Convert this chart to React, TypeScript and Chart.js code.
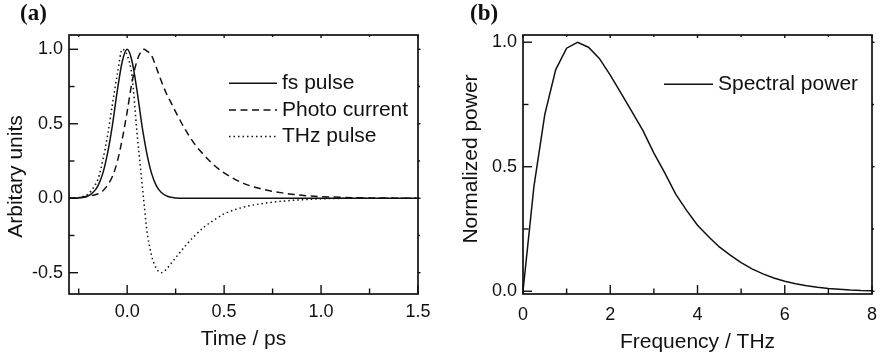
import React, { useEffect, useRef } from "react";
import { Chart, registerables } from "chart.js";

Chart.register(...registerables);

// ---------- Panel (a) data ----------
const timePs = [
  -0.3, -0.25, -0.2, -0.175, -0.15, -0.125, -0.1, -0.075, -0.05, -0.025, 0, 0.025, 0.05, 0.075,
  0.0875, 0.1, 0.125, 0.15, 0.175, 0.2, 0.225, 0.25, 0.3, 0.35, 0.4, 0.45, 0.5, 0.6, 0.7, 0.8,
  0.9, 1.0, 1.1, 1.2, 1.35, 1.5,
];
const fsPulse = [
  0, 0.002, 0.017, 0.04, 0.085, 0.17, 0.31, 0.5, 0.73, 0.92, 1.0, 0.92, 0.73, 0.5,
  0.4, 0.31, 0.17, 0.085, 0.04, 0.017, 0.006, 0.002, 0, 0, 0, 0, 0, 0, 0, 0,
  0, 0, 0, 0, 0, 0,
];
const photoCurrent = [
  0, 0.003, 0.012, 0.02, 0.03, 0.05, 0.09, 0.15, 0.25, 0.4, 0.58, 0.78, 0.92, 0.99,
  1.0, 0.99, 0.96, 0.88, 0.79, 0.71, 0.645, 0.58, 0.46, 0.36, 0.285, 0.22, 0.17, 0.1, 0.06, 0.036,
  0.02, 0.011, 0.006, 0.003, 0.001, 0,
];
const thzPulse = [
  0, 0.005, 0.03, 0.07, 0.13, 0.26, 0.43, 0.64, 0.84, 1.0, 0.96, 0.82, 0.45, 0.12,
  -0.04, -0.2, -0.38, -0.47, -0.5, -0.48, -0.44, -0.4, -0.32, -0.25, -0.19, -0.145, -0.105, -0.06, -0.035, -0.02,
  -0.01, -0.004, -0.001, 0, 0, 0,
];
const timeTicks = [0, 0.5, 1.0, 1.5];
const timeMinorTicks = [-0.25, 0.25, 0.75, 1.25];
const ampTicks = [-0.5, 0, 0.5, 1.0];
const ampMinorTicks = [-0.25, 0.25, 0.75];

// ---------- Panel (b) data ----------
const freqTHz = [
  0, 0.25, 0.5, 0.75, 1.0, 1.25, 1.5, 1.75, 2.0, 2.25, 2.5, 2.75, 3.0, 3.25, 3.5, 3.75, 4.0,
  4.25, 4.5, 4.75, 5.0, 5.25, 5.5, 5.75, 6.0, 6.25, 6.5, 6.75, 7.0, 7.25, 7.5, 7.75, 8.0,
];
const spectralPower = [
  0, 0.42, 0.71, 0.89, 0.976, 1.0, 0.98, 0.935, 0.868, 0.795, 0.72, 0.645, 0.555, 0.475, 0.39, 0.325, 0.265,
  0.22, 0.178, 0.145, 0.115, 0.09, 0.07, 0.053, 0.04, 0.03, 0.022, 0.016, 0.011, 0.008, 0.005, 0.003, 0.002,
];
const freqTicks = [0, 2, 4, 6, 8];
const freqMinorTicks = [1, 3, 5, 7];
const powerTicks = [0, 0.5, 1.0];
const powerMinorTicks = [0.25, 0.75];

const SANS = '"Liberation Sans", Arial, Helvetica, sans-serif';
const SERIF = '"Liberation Serif", "Times New Roman", serif';
const INK = "#111";

type PanelCfg = {
  label: string;
  labelX: number;
  labelY: number;
  yTitle: string;
  yTitleX: number;
  yTitleY: number;
  legX1: number;
  legX2: number;
  legTextX: number;
  legY: number[];
  xMajor: number[];
  xMinor: number[];
  yMajor: number[];
  yMinor: number[];
};

function makeDecor(cfg: PanelCfg) {
  return {
    id: "decor",
    afterDraw(chart: any) {
      const { ctx, chartArea: a } = chart;
      const xs = chart.scales.x;
      const ys = chart.scales.y;
      ctx.save();
      ctx.strokeStyle = INK;
      ctx.fillStyle = INK;
      ctx.setLineDash([]);
      const seg = (x1: number, y1: number, x2: number, y2: number) => {
        ctx.beginPath();
        ctx.moveTo(x1, y1);
        ctx.lineTo(x2, y2);
        ctx.stroke();
      };
      ctx.lineWidth = 1.4;
      for (const v of cfg.xMajor) {
        const p = xs.getPixelForValue(v);
        seg(p, a.bottom, p, a.bottom - 9);
        seg(p, a.top, p, a.top + 3);
      }
      for (const v of cfg.xMinor) {
        const p = xs.getPixelForValue(v);
        seg(p, a.bottom, p, a.bottom - 5.5);
        seg(p, a.top, p, a.top + 2);
      }
      for (const v of cfg.yMajor) {
        const p = ys.getPixelForValue(v);
        seg(a.left, p, a.left + 9, p);
        seg(a.right, p, a.right + 2.5, p);
      }
      for (const v of cfg.yMinor) {
        const p = ys.getPixelForValue(v);
        seg(a.left, p, a.left + 5.5, p);
        seg(a.right, p, a.right + 2, p);
      }
      ctx.lineWidth = 1.7;
      ctx.strokeRect(a.left, a.top, a.right - a.left, a.bottom - a.top);

      // legend
      ctx.font = `21px ${SANS}`;
      ctx.textAlign = "left";
      ctx.textBaseline = "middle";
      chart.data.datasets.forEach((ds: any, i: number) => {
        const y = cfg.legY[i];
        ctx.lineWidth = ds.borderWidth;
        ctx.setLineDash(ds.borderDash || []);
        seg(cfg.legX1, y, cfg.legX2, y);
        ctx.setLineDash([]);
        ctx.fillText(ds.label, cfg.legTextX, y);
      });

      // y-axis title
      ctx.save();
      ctx.translate(cfg.yTitleX, cfg.yTitleY);
      ctx.rotate(-Math.PI / 2);
      ctx.textAlign = "center";
      ctx.textBaseline = "alphabetic";
      ctx.font = `21px ${SANS}`;
      ctx.fillText(cfg.yTitle, 0, 0);
      ctx.restore();

      // panel label
      ctx.font = `bold 23px ${SERIF}`;
      ctx.textAlign = "left";
      ctx.textBaseline = "alphabetic";
      ctx.fillText(cfg.label, cfg.labelX, cfg.labelY);
      ctx.restore();
    },
  };
}

function lineDs(label: string, xs: number[], ys: number[], dash: number[], smooth: boolean) {
  return {
    label,
    data: xs.map((x, i) => ({ x, y: ys[i] })),
    borderColor: INK,
    borderWidth: 1.5,
    borderDash: dash,
    pointRadius: 0,
    fill: false,
    tension: smooth ? 0.4 : 0,
    cubicInterpolationMode: smooth ? "monotone" : "default",
  };
}

function axisX(min: number, max: number, ticks: number[], fmt: (v: number) => string, title: string, padTick: number, padTitle: number) {
  return {
    type: "linear",
    min,
    max,
    grid: { display: false, drawTicks: false },
    border: { display: false },
    afterBuildTicks: (s: any) => {
      s.ticks = ticks.map((v) => ({ value: v }));
    },
    afterFit: (s: any) => {
      s.height = 65;
      s.paddingLeft = 0;
      s.paddingRight = 0;
    },
    ticks: {
      autoSkip: false,
      maxRotation: 0,
      padding: padTick,
      color: INK,
      font: { family: SANS, size: 18 },
      callback: (v: any) => fmt(Number(v)),
    },
    title: {
      display: true,
      text: title,
      color: INK,
      font: { family: SANS, size: 21 },
      padding: { top: 0, bottom: padTitle },
    },
  };
}

function axisY(min: number, max: number, ticks: number[], width: number) {
  return {
    type: "linear",
    min,
    max,
    grid: { display: false, drawTicks: false },
    border: { display: false },
    afterBuildTicks: (s: any) => {
      s.ticks = ticks.map((v) => ({ value: v }));
    },
    afterFit: (s: any) => {
      s.width = width;
      s.paddingTop = 0;
      s.paddingBottom = 0;
    },
    ticks: {
      autoSkip: false,
      padding: 6,
      color: INK,
      font: { family: SANS, size: 18 },
      callback: (v: any) => Number(v).toFixed(1),
    },
  };
}

export default function App() {
  const refA = useRef<HTMLCanvasElement | null>(null);
  const refB = useRef<HTMLCanvasElement | null>(null);

  useEffect(() => {
    const common = {
      responsive: false,
      animation: false,
      devicePixelRatio: 1,
      events: [],
      plugins: { legend: { display: false }, tooltip: { enabled: false } },
    };

    const chartA = new Chart(refA.current as HTMLCanvasElement, {
      type: "line",
      data: {
        datasets: [
          lineDs("fs pulse", timePs, fsPulse, [], true),
          lineDs("Photo current", timePs, photoCurrent, [7, 4.5], true),
          lineDs("THz pulse", timePs, thzPulse, [1.5, 3], true),
        ],
      } as any,
      options: {
        ...common,
        layout: { padding: { left: 0, right: 22, top: 35, bottom: 0 } },
        scales: {
          x: axisX(-0.3, 1.5, timeTicks, (v) => v.toFixed(1), "Time / ps", 7, 7),
          y: axisY(-0.643, 1.096, ampTicks, 69),
        },
      } as any,
      plugins: [
        makeDecor({
          label: "(a)",
          labelX: 20,
          labelY: 20,
          yTitle: "Arbitary units",
          yTitleX: 22,
          yTitleY: 176.5,
          legX1: 229,
          legX2: 277,
          legTextX: 282,
          legY: [83.3, 110, 136.5],
          xMajor: timeTicks,
          xMinor: timeMinorTicks,
          yMajor: ampTicks,
          yMinor: ampMinorTicks,
        }),
      ],
    });

    const chartB = new Chart(refB.current as HTMLCanvasElement, {
      type: "line",
      data: {
        datasets: [lineDs("Spectral power", freqTHz, spectralPower, [], false)],
      } as any,
      options: {
        ...common,
        layout: { padding: { left: 0, right: 8, top: 35, bottom: 0 } },
        scales: {
          x: axisX(0, 8, freqTicks, (v) => String(v), "Frequency / THz", 10, 4),
          y: axisY(-0.011, 1.029, powerTicks, 83),
        },
      } as any,
      plugins: [
        makeDecor({
          label: "(b)",
          labelX: 30,
          labelY: 20,
          yTitle: "Normalized power",
          yTitleX: 37,
          yTitleY: 159,
          legX1: 224,
          legX2: 273,
          legTextX: 278,
          legY: [84.3],
          xMajor: freqTicks,
          xMinor: freqMinorTicks,
          yMajor: powerTicks,
          yMinor: powerMinorTicks,
        }),
      ],
    });

    return () => {
      chartA.destroy();
      chartB.destroy();
    };
  }, []);

  return (
    <div style={{ position: "fixed", left: 0, top: 0, width: 880, height: 359, background: "#fff" }}>
      <canvas ref={refA} width={440} height={359} style={{ position: "absolute", left: 0, top: 0 }} />
      <canvas ref={refB} width={440} height={359} style={{ position: "absolute", left: 440, top: 0 }} />
    </div>
  );
}
